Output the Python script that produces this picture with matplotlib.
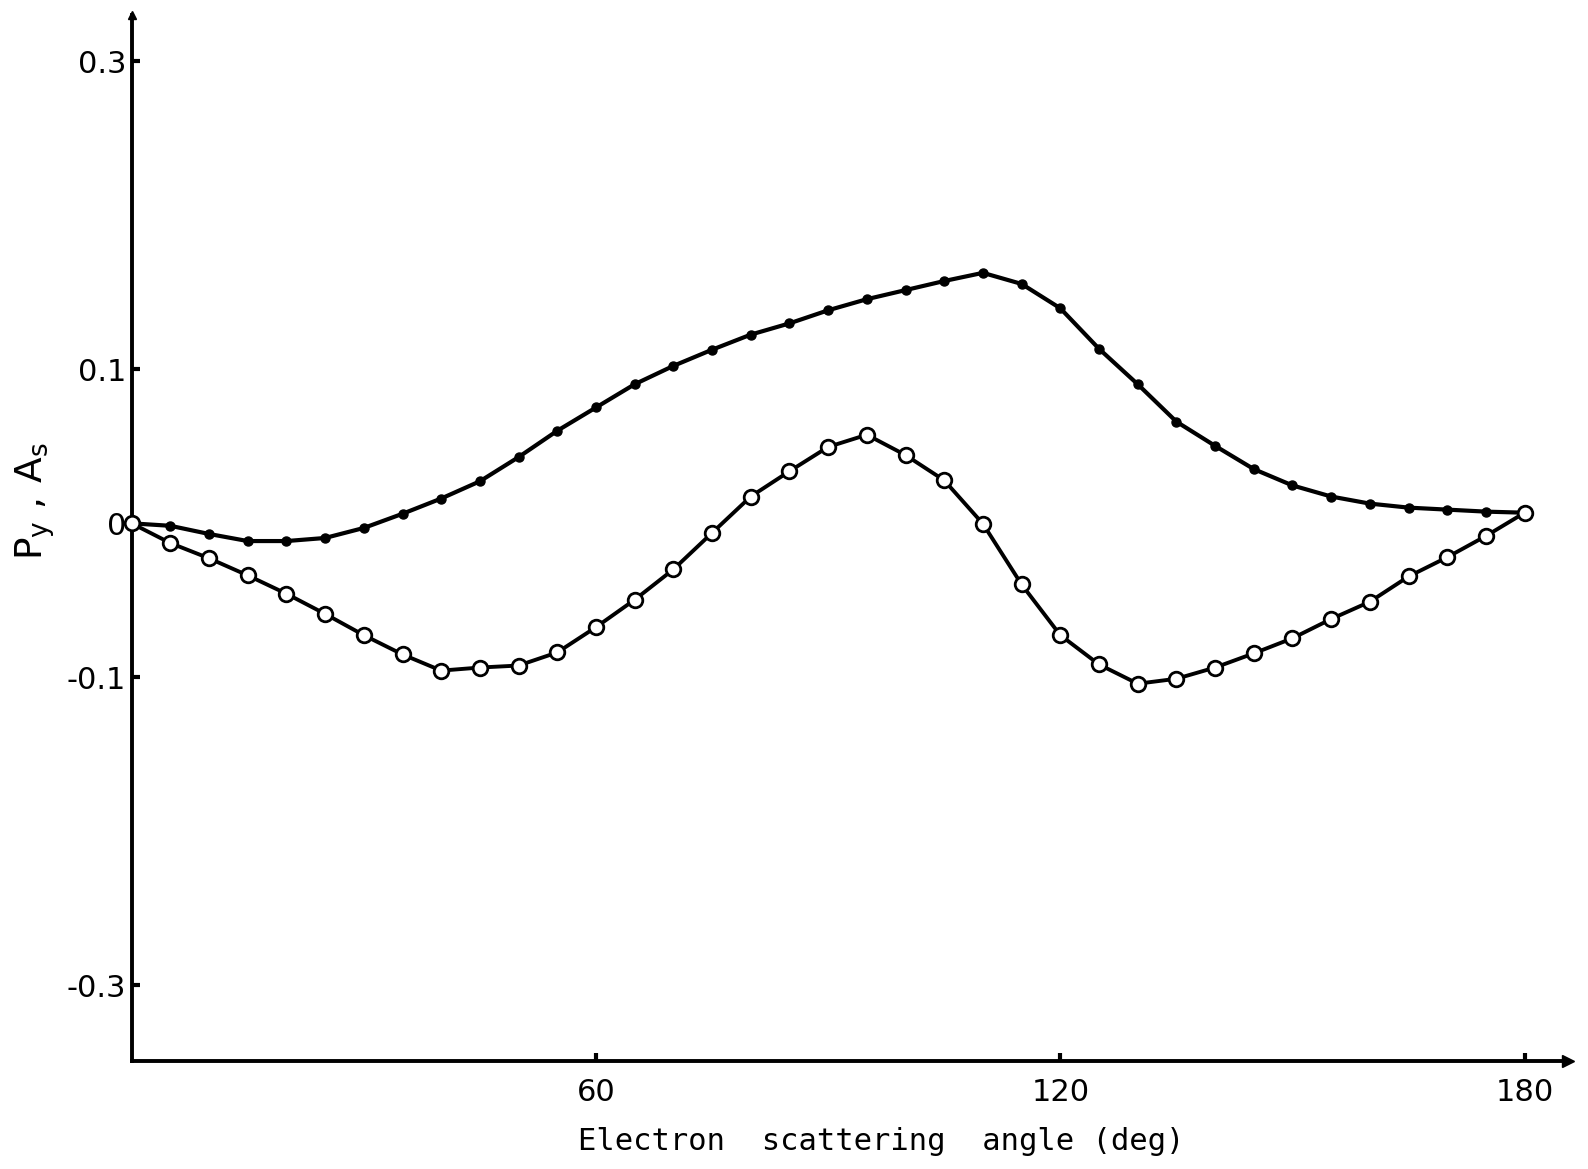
import matplotlib
matplotlib.use("Agg")
import matplotlib.pyplot as plt

# scattering angle grid (deg) and the two measured quantities
angle = list(range(0, 181, 5))
py_vals = [0.0, -0.0016, -0.0069, -0.0115, -0.0115, -0.0095, -0.003, 0.0062,
           0.0161, 0.0273, 0.043, 0.0601, 0.0752, 0.0903, 0.1022, 0.1127,
           0.1225, 0.1298, 0.1383, 0.1455, 0.1514, 0.1573, 0.1626, 0.1554,
           0.1396, 0.1133, 0.0903, 0.066, 0.0503, 0.0352, 0.0246, 0.0174,
           0.0128, 0.0102, 0.0089, 0.0076, 0.0069]
as_vals = [0.0, -0.0128, -0.0227, -0.0338, -0.0457, -0.0588, -0.0726, -0.0851,
           -0.0956, -0.0936, -0.0923, -0.0838, -0.0674, -0.0496, -0.0299,
           -0.0062, 0.0174, 0.0338, 0.0496, 0.0575, 0.0443, 0.0279, -0.0003,
           -0.0397, -0.0726, -0.0916, -0.1041, -0.1009, -0.0936, -0.0844,
           -0.0746, -0.0621, -0.0509, -0.0345, -0.022, -0.0082, 0.0069]

yticks = [0.3, 0.1, 0.0, -0.1, -0.3]
ytick_labels = ["0.3", "0.1", "0", "-0.1", "-0.3"]
xticks = [60, 120, 180]
xtick_labels = ["60", "120", "180"]

plt.rcParams["font.family"] = ["DejaVu Sans"]

fig = plt.figure(figsize=(15.88, 11.69), dpi=100)
ax = fig.add_axes([0.0829, 0.0924, 0.9045, 0.8948])

ax.plot(angle, py_vals, color="black", lw=3.0, marker="o", ms=6.5,
        mfc="black", mec="black", solid_joinstyle="round",
        clip_on=False, zorder=3)
ax.plot(angle, as_vals, color="black", lw=2.8, marker="o", ms=10.5,
        mfc="white", mec="black", mew=2.0, solid_joinstyle="round",
        clip_on=False, zorder=4)

ax.set_xlim(0, 185.6)
ax.set_ylim(-0.349, 0.33)

for side in ("top", "right"):
    ax.spines[side].set_visible(False)
for side in ("left", "bottom"):
    ax.spines[side].set_linewidth(2.8)

# small arrowheads at the ends of the axes
ax.plot(1, 0, ">", color="black", ms=8, transform=ax.transAxes, clip_on=False)
ax.plot(0, 1, "^", color="black", ms=6, transform=ax.transAxes, clip_on=False)

ax.set_yticks(yticks)
ax.set_yticklabels(ytick_labels)
ax.set_xticks(xticks)
ax.set_xticklabels(xtick_labels)
ax.tick_params(axis="both", direction="in", length=6, width=3, labelsize=22)
ax.tick_params(axis="y", pad=4)
ax.tick_params(axis="x", pad=12)

ax.set_xlabel("Electron  scattering  angle (deg)", fontsize=22,
              family="DejaVu Sans Mono")
ax.xaxis.set_label_coords(0.522, -0.0765)
ax.xaxis.label.set_va("center")

ax.set_ylabel(r"$\mathregular{P_y\ ,\, A_s}$", fontsize=27)
ax.yaxis.set_label_coords(-0.067, 0.535)
ax.yaxis.label.set_va("center")

fig.savefig("out.png", dpi=100)
